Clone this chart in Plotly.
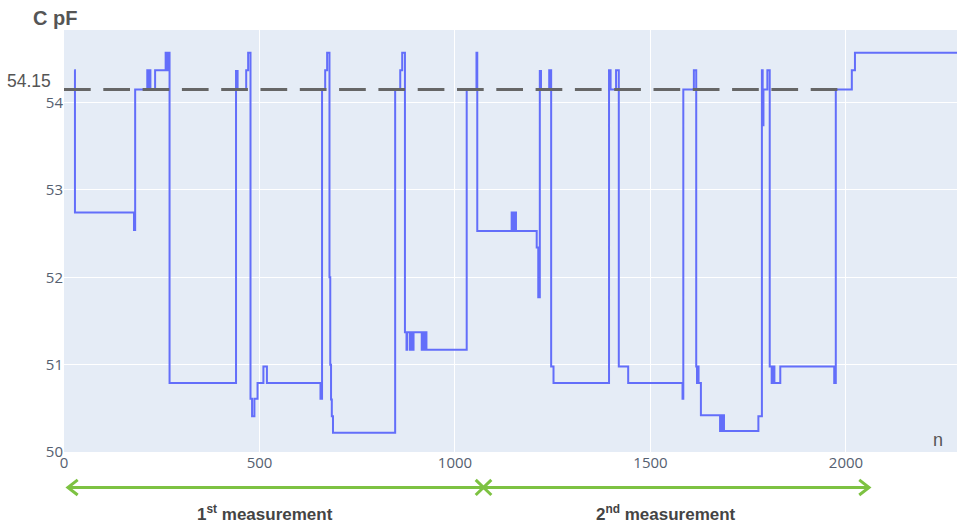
import plotly.graph_objects as go

# Capacitance trace: sample index n where the reading changes, and the new value (pF)
n_steps = [26, 28, 179, 182, 213, 215, 217, 221, 233, 260, 263, 265, 270,
           440, 444, 466, 471, 477, 481, 487, 495, 510, 519,
           656, 660, 668, 673, 679, 681, 683, 685, 688,
           847, 860, 865, 872, 876, 878, 885, 887, 892, 894,
           915, 917, 919, 921, 923, 925, 927,
           1030, 1055, 1057, 1145, 1150, 1152, 1156, 1209, 1213, 1217, 1220,
           1241, 1246, 1252, 1394, 1398, 1412, 1419, 1443,
           1582, 1584, 1611, 1617, 1619, 1621, 1623, 1629,
           1678, 1681, 1684, 1686, 1688, 1776, 1785, 1787, 1789, 1799,
           1805, 1810, 1815, 1817, 1832, 1970, 1974, 2015, 2023, 2290]
c_steps = [54.37, 52.74, 52.54, 54.15, 54.37, 54.15, 54.37, 54.15, 54.37, 54.57, 54.37, 54.57, 50.79,
           54.36, 54.15, 54.37, 54.57, 50.61, 50.41, 50.61, 50.79, 50.98, 50.79,
           50.61, 54.15, 54.37, 54.57, 52.0, 51.0, 50.6, 50.41, 50.22,
           54.15, 54.37, 54.57, 51.37, 51.17, 51.37, 51.17, 51.37, 51.17, 51.37,
           51.17, 51.37, 51.17, 51.37, 51.17, 51.37, 51.17,
           54.15, 54.57, 52.53, 52.74, 52.53, 52.74, 52.53, 52.34, 51.77, 54.36, 54.15,
           54.37, 50.98, 50.79, 54.37, 54.15, 54.37, 50.98, 50.79,
           50.61, 54.15, 54.37, 50.98, 50.79, 50.98, 50.79, 50.42,
           50.24, 50.42, 50.24, 50.42, 50.24, 50.41, 54.37, 53.74, 54.15, 54.37,
           50.98, 50.79, 50.98, 50.79, 50.98, 50.79, 54.15, 54.37, 54.57, 54.57]

# Reference level
ref_level = 54.15
ref_span = [0, 2000]

# Measurement intervals along n
meas_start, meas_split, meas_end = 10, 1073, 2059
meas_labels = ["<b>1<sup>st</sup> measurement</b>", "<b>2<sup>nd</sup> measurement</b>"]
meas_label_n = [514, 1539]

x_ticks = [0, 500, 1000, 1500, 2000]
y_ticks = [50, 51, 52, 53, 54]

fig = go.Figure()
fig.add_trace(go.Scatter(x=n_steps, y=c_steps, mode="lines", line_shape="hv",
                         line=dict(color="#636efa", width=2), showlegend=False))
fig.add_trace(go.Scatter(x=ref_span, y=[ref_level, ref_level], mode="lines",
                         line=dict(color="#666666", width=3, dash="26.7px,12.6px"),
                         showlegend=False))

green = "#7dc242"
arrow_y = -0.084
dx_head = 25   # arrowhead depth in n units
dy_head = 0.018
shapes = [
    dict(type="line", xref="x", yref="paper", x0=meas_start, x1=meas_end,
         y0=arrow_y, y1=arrow_y, line=dict(color=green, width=3)),
    dict(type="path", xref="x", yref="paper",
         path=f"M{meas_start + dx_head},{arrow_y + dy_head} L{meas_start},{arrow_y} L{meas_start + dx_head},{arrow_y - dy_head}",
         line=dict(color=green, width=3)),
    dict(type="path", xref="x", yref="paper",
         path=f"M{meas_end - dx_head},{arrow_y + dy_head} L{meas_end},{arrow_y} L{meas_end - dx_head},{arrow_y - dy_head}",
         line=dict(color=green, width=3)),
    dict(type="path", xref="x", yref="paper",
         path=f"M{meas_split - 20},{arrow_y + dy_head} L{meas_split + 20},{arrow_y - dy_head} "
              f"M{meas_split - 20},{arrow_y - dy_head} L{meas_split + 20},{arrow_y + dy_head}",
         line=dict(color=green, width=3)),
]

text_font = dict(family="Liberation Sans, Arial, sans-serif", color="#444444")
annotations = [
    dict(text="<b>C pF</b>", xref="paper", yref="paper", x=-0.0101, y=1.0284,
         xanchor="center", yanchor="middle", showarrow=False,
         font=dict(text_font, size=20, color="#555555")),
    dict(text="54.15", xref="paper", yref="y", x=-0.0123, y=ref_level, yshift=8,
         xanchor="right", yanchor="middle", showarrow=False,
         font=dict(text_font, size=17.5, color="#555555")),
    dict(text="n", xref="paper", yref="paper", x=0.9787, y=0.0284,
         xanchor="center", yanchor="middle", showarrow=False,
         font=dict(text_font, size=18, color="#555555")),
]
for lbl, xn in zip(meas_labels, meas_label_n):
    annotations.append(dict(text=lbl, xref="x", yref="paper", x=xn, y=-0.1445,
                            xanchor="center", yanchor="middle", showarrow=False,
                            font=dict(text_font, size=17)))

fig.update_layout(
    width=957, height=524,
    margin=dict(l=64, r=0, t=30, b=72),
    template="plotly",
    plot_bgcolor="#E5ECF6", paper_bgcolor="white",
    shapes=shapes, annotations=annotations,
    showlegend=False,
    xaxis=dict(range=[0, 2284], tickvals=x_ticks, zeroline=False, showgrid=True,
               gridcolor="white", tickfont=dict(size=15, color="#556070")),
    yaxis=dict(range=[50, 54.83], tickvals=y_ticks, zeroline=False, showgrid=True,
               gridcolor="white", tickfont=dict(size=15, color="#556070")),
)

fig.write_html("out.html")
